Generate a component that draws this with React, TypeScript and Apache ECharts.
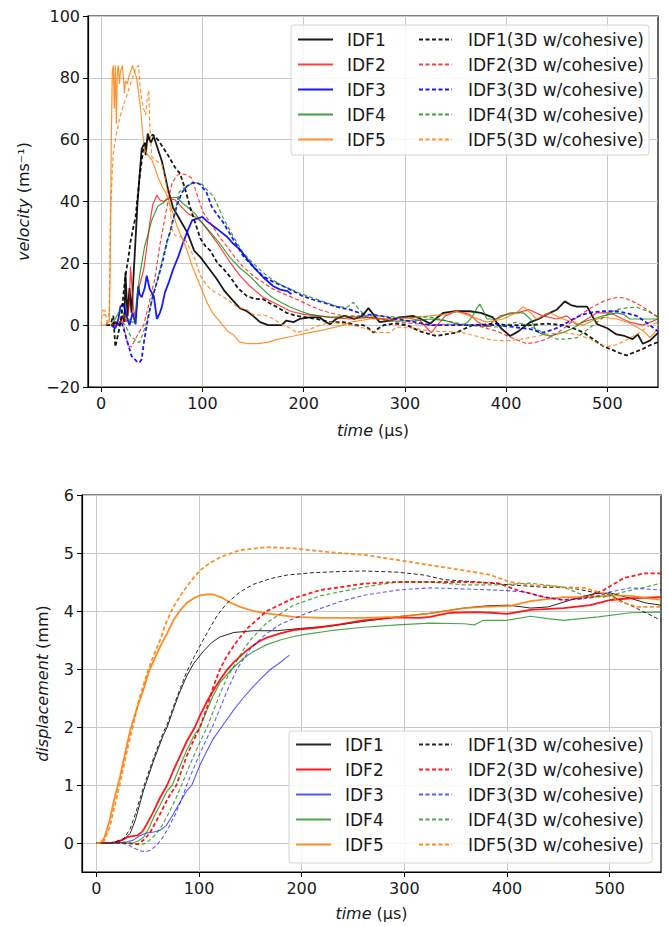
import React, { useEffect, useRef } from "react";
import * as echarts from "echarts";

// ---------- ticks ----------
const timeTicks = [0, 100, 200, 300, 400, 500];
const dispTicks = [0, 1, 2, 3, 4, 5, 6];

// ---------- legend names ----------
const solidNames = ["IDF1", "IDF2", "IDF3", "IDF4", "IDF5"];
const dashedNames = ["IDF1(3D w/cohesive)", "IDF2(3D w/cohesive)", "IDF3(3D w/cohesive)", "IDF4(3D w/cohesive)", "IDF5(3D w/cohesive)"];

// ---------- velocity (top) [time µs, velocity m/s] ----------
const vIDF1 = [[10,0],[14,1],[18,0],[21,3],[23,1],[24,17],[26,3],[28,12],[30,4],[33,22],[36,40],[40,57],[43,59],[44,55],[46,62],[49,59],[52,61],[56,57],[60,53],[66,44],[71,38],[78,34],[85,30],[92,24],[98,22],[105,19],[114,15],[122,11],[130,8],[137,5.5],[144,4.5],[150,3],[157,1],[165,0],[174,0],[178,0],[183,1.5],[190,1],[196,2],[206,2.5],[216,2.5],[222,1],[226,0.3],[232,2],[240,3],[250,2],[258,3],[264,5.5],[270,3],[275,1],[285,1.5],[295,2.5],[308,3],[316,2],[325,0.5],[332,2.5],[338,4],[350,4.5],[364,4.5],[375,4],[387,2.5],[395,-1],[404,-3.5],[412,-2],[424,1],[432,2],[440,3.5],[450,5],[458,7.7],[464,6.5],[470,6],[480,6],[485,3],[490,0.3],[500,-1],[509,-3],[517,-3.5],[525,-4.5],[530,-3],[535,-6],[542,-5],[550,-2.5]];
const vIDF1D = [[5,0],[8,0],[10,1],[12,3],[14,-7],[16,-4],[18,-1],[20,3],[22,10],[24,16],[27,22],[29,27],[32,32],[34,35],[38,48],[42,58],[46,60],[51,61.6],[53,61],[56,60],[60,58],[66,55],[73,51],[78,49],[83,44],[88,38],[93,33],[98,28],[103,25.6],[108,24],[115,20],[120,18.5],[127,15.8],[135,12],[144,9.4],[152,8.5],[160,8.4],[167,7],[174,5.8],[183,4],[193,3],[203,2.5],[213,2],[226,1],[239,1],[252,0],[259,0],[264,-1],[269,-2.4],[274,-1],[279,0],[290,0.5],[302,0],[315,-2],[331,-3.5],[340,-3],[351,-2.4],[360,-1],[367,0],[390,0.5],[400,0],[423,0],[440,0.5],[456,0],[466,-1],[476,-2.3],[486,-4.5],[496,-6.8],[505,-8],[512,-9],[519,-9.8],[527,-8.7],[535,-7.7],[542,-6.5],[550,-5.5]];
const vIDF2 = [[10,0],[15,1],[18,0],[20,2],[22,3],[25,1],[27,4],[28,8],[29,19],[31,10],[32,5],[34,2],[36,8],[38,13],[42,18],[45,25],[48,33],[51,39],[55,42],[58,40.5],[62,40],[67,41],[73,40.5],[80,38],[86,36],[93,35],[100,33],[108,29.5],[116,26],[127,20.5],[137,16],[147,12.6],[160,9],[175,6.5],[187,4.5],[200,3.5],[215,3],[226,2.5],[246,2],[266,2.5],[282,2],[300,2.5],[315,1.5],[322,-1],[326,-2.5],[332,0],[340,3],[351,4.5],[364,3.5],[372,1],[381,-0.6],[388,1.5],[394,3],[410,4],[423,5],[436,3],[450,2],[460,3],[470,0],[480,2],[490,4],[503,4],[512,2.5],[522,1],[535,0],[550,2]];
const vIDF2D = [[12,0],[15,0],[18,1],[21,2],[24,-3],[27,-6.7],[30,-7],[33,-5],[38,-2],[42,0],[48,8],[53,15],[58,26],[62,33],[66,40],[70,46],[75,48.5],[80,49],[85,48.5],[90,47.5],[93,44],[96,41],[100,37],[104,35],[112,31],[118,28],[124,25.6],[132,22],[140,19],[150,16],[160,13.8],[168,12],[177,10.6],[185,9.5],[193,8.4],[205,6.5],[216,5],[226,4],[239,3],[259,3],[275,2],[292,1],[310,0.5],[325,0],[340,0.3],[357,0.3],[375,-0.5],[391,-2],[405,-4],[420,-6],[430,-5.5],[440,-4.5],[448,-3],[456,-1.3],[466,1.5],[476,4],[486,6],[496,7.7],[503,8.5],[510,9],[517,8.8],[525,7.7],[532,6.5],[539,5],[545,3.8],[550,2.6]];
const vIDF3 = [[10,0],[14,-1],[17,2],[19,6],[22,7],[25,3],[28,0],[31,4],[34,0.3],[36.5,12.6],[38,10],[40,9],[43,12],[45,16],[48,11.6],[52,9.4],[55,2],[58,4],[60,6],[63,10.6],[67,14],[71,18],[76,22],[81,26.8],[86,31],[90,34],[95,34.5],[100,35],[105,33.5],[111,32],[117,30.5],[124,28.7],[130,26.5],[137,24.5],[144,21.5],[150,19],[160,15.5],[170,12.6],[177,11.5],[184,11],[188,10]];
const vIDF3D = [[15,0],[20,1],[23,-2],[25,-4.5],[28,-7.7],[30,-10],[33,-11],[36,-12],[38,-12],[40,-11],[42,-6],[45,0],[48,5],[51,9.4],[56,15],[61,21],[65,27],[68,30],[71,34],[75,39],[80,43],[85,45],[90,46],[95,46],[98,45.5],[104,43],[109,38.5],[114,36],[120,33.5],[130,28],[140,22.5],[150,19],[160,15.8],[170,14],[180,12.6],[190,11],[199,9.4],[209,8.3],[219,7.4],[232,6],[246,5],[259,3.5],[272,3.2],[292,2],[310,1],[325,0],[340,0],[357,0],[375,0],[391,0],[408,-0.6],[424,-1.3],[436,-2.4],[446,-1.5],[456,0],[466,2],[476,3.5],[486,4.2],[496,4.5],[509,4.5],[520,3.8],[529,3],[540,0.5],[550,-2]];
const vIDF4 = [[10,0],[14,2],[17,4],[20,5],[23,3],[27,2],[30,1],[33,1],[35,8],[38,16],[43,25.6],[46,29],[50,34],[56,38.5],[61,39.5],[65,41],[70,41.3],[75,41.3],[80,39.6],[86,38],[93,36],[100,33],[108,30],[117,26.5],[127,22],[137,18.5],[147,15.8],[157,12.5],[167,9.4],[177,7.5],[187,5.8],[197,4.5],[206,3.5],[216,3],[226,2.6],[242,2.8],[259,2.6],[275,2],[292,1.3],[310,1.5],[325,2],[340,1.5],[350,0.5],[357,0],[362,1],[367,3],[371,5.5],[374,6.8],[377,5],[381,2],[391,2],[397,3],[404,4],[417,4],[424,2],[430,-2],[436,-3],[443,-3.5],[456,-2.4],[466,-1],[476,1],[486,2],[496,3],[509,4],[516,3.5],[522,2],[535,2],[550,2]];
const vIDF4D = [[15,0],[20,1],[24,0],[27,-2.3],[30,-4],[33,-4.5],[36,-5.5],[38,-5.5],[41,-3],[45,1],[48,5],[52,10.6],[56,15],[61,22],[66,28],[71,34],[74,38],[77,43],[82,44.5],[86,45],[90,46],[95,46],[100,45.5],[104,44],[111,41.6],[116,38],[120,35],[130,29],[140,23.5],[150,20],[160,17],[170,14.5],[180,12.6],[190,11.2],[199,10],[209,8.8],[219,7.7],[233,6],[243,5.8],[249,7.4],[255,5],[262,3],[275,3],[292,2.6],[310,2.6],[325,2.6],[340,1.5],[357,0.3],[375,-0.3],[391,-0.6],[400,0],[410,1],[420,0],[430,-1.3],[440,-3],[450,-4.5],[460,-4.5],[470,-4],[480,-1.5],[490,1],[500,3.5],[509,5],[519,5.6],[529,5.8],[540,4.5],[550,2.6]];
const vIDF5 = [[0,0],[3,0],[6,0.5],[8,1],[9,20],[10,60],[11,82],[12,84],[13,70],[14,84],[15,65],[16,82],[17,84],[18,78],[19,82],[21,84],[22,80],[23,75],[24,79],[26,78],[27,80],[29,82],[31,84],[33,82],[35,80],[37,75],[39,70],[41,62],[43,57],[46,55],[50,53.5],[53,51],[56,48],[60,45],[65,42],[70,37],[75,32],[80,28],[85,24],[90,19],[95,15],[100,11],[105,7],[110,4],[115,2],[120,0],[125,-2],[130,-3],[137,-5.5],[145,-6],[155,-6],[165,-5.5],[175,-4.5],[190,-3.5],[206,-2.4],[220,-1.5],[239,0],[246,1],[266,2],[292,2],[310,2.5],[325,3],[340,3.5],[351,4.5],[364,3],[381,1],[397,2],[410,4],[417,6],[424,4],[430,2],[443,4],[456,2],[466,1],[476,0],[486,1.5],[496,2.6],[509,2],[520,1],[529,-0.6],[536,-2],[542,-4],[550,-1.3]];
const vIDF5D = [[0,0],[1,4],[2,5],[3,3],[4,5],[5,2],[6,0],[8,5],[9,34],[11,50],[12,55.6],[14,60],[17,65],[20,69],[24,73],[27,76],[30,79],[33,82],[35,83.5],[37,84],[38,79],[40,73],[42,70],[44,68],[45,72],[47,76],[48,65],[50,54.5],[55,53],[60,52],[63,48],[65,44],[68,38],[70,31],[73,29],[78,28.7],[83,27.7],[88,24.5],[93,21],[98,16],[103,13.5],[108,11.6],[116,10],[124,8.4],[134,6],[144,5],[150,3.5],[164,3],[170,2],[180,0],[187,-1],[193,-2.4],[200,-1.8],[206,-1.3],[216,0],[226,1],[237,0.5],[249,0],[260,-1],[272,-2.4],[285,-2.4],[292,-0.6],[310,-1],[325,-2],[340,-2],[357,-2.4],[370,-3.5],[381,-4.5],[392,-5],[404,-5],[415,-4.5],[424,-4],[440,-3],[456,-2.4],[470,-3],[483,-4.5],[491,-6],[499,-7],[507,-6.5],[515,-5.5],[523,-4],[532,-2.4],[540,-0.5],[550,1]];

// ---------- displacement (bottom) [time µs, displacement mm] ----------
const dIDF1 = [[0,0],[15,0],[22,0.02],[28,0.08],[33,0.17],[38,0.4],[46,0.91],[56,1.43],[65,1.85],[69,2.0],[74,2.25],[80,2.55],[88,2.88],[95,3.1],[104,3.3],[112,3.45],[120,3.55],[134,3.63],[153,3.66],[176,3.66],[199,3.7],[228,3.74],[260,3.82],[293,3.9],[325,3.96],[358,4.05],[381,4.09],[401,4.1],[415,4.07],[423,4.05],[440,4.07],[462,4.19],[485,4.3],[501,4.31],[520,4.22],[535,4.14],[550,4.1]];
const dIDF1D = [[0,0],[12,0],[20,0.03],[27,0.08],[33,0.25],[38,0.5],[46,0.97],[56,1.48],[65,1.9],[69,2.05],[75,2.35],[82,2.68],[88,2.95],[95,3.2],[104,3.5],[112,3.75],[118,3.93],[127,4.13],[140,4.33],[153,4.46],[170,4.56],[186,4.62],[210,4.66],[237,4.68],[260,4.69],[293,4.67],[319,4.62],[339,4.54],[372,4.5],[403,4.45],[436,4.41],[462,4.4],[482,4.33],[501,4.27],[514,4.15],[534,3.98],[550,3.84]];
const dIDF2 = [[0,0],[15,0],[25,0.05],[30,0.1],[35,0.12],[40,0.13],[45,0.2],[49,0.32],[55,0.52],[62,0.78],[69,1.0],[75,1.25],[82,1.52],[88,1.75],[96,2.0],[101,2.2],[108,2.45],[114,2.63],[120,2.8],[127,2.98],[134,3.12],[147,3.33],[158,3.47],[166,3.54],[180,3.62],[192,3.67],[218,3.72],[237,3.77],[260,3.84],[293,3.89],[315,3.88],[325,3.9],[345,3.97],[371,3.98],[385,3.97],[400,3.95],[423,4.02],[455,4.05],[481,4.1],[501,4.19],[520,4.22],[550,4.24]];
const dIDF2D = [[0,0],[20,0],[30,0],[40,-0.02],[46,0.05],[52,0.17],[62,0.5],[70,0.78],[78,1.0],[88,1.5],[95,1.78],[101,2.0],[108,2.35],[114,2.7],[120,2.98],[127,3.22],[137,3.48],[147,3.7],[166,4.0],[192,4.22],[218,4.36],[237,4.41],[260,4.47],[293,4.5],[358,4.5],[391,4.48],[410,4.36],[436,4.24],[455,4.19],[475,4.22],[494,4.36],[514,4.57],[534,4.65],[550,4.65]];
const dIDF3 = [[0,0],[20,0],[30,0.02],[36,0.05],[42,0.12],[48,0.17],[56,0.19],[62,0.22],[68,0.3],[75,0.5],[82,0.72],[88,0.9],[93,1.0],[101,1.35],[108,1.6],[114,1.8],[122,2.0],[134,2.3],[143,2.5],[153,2.7],[163,2.88],[170,3.0],[178,3.1],[188,3.24]];
const dIDF3D = [[0,0],[25,0],[32,-0.04],[38,-0.1],[44,-0.14],[48,-0.15],[52,-0.13],[58,-0.05],[64,0.08],[70,0.25],[77,0.5],[83,0.75],[88,1.0],[95,1.3],[101,1.55],[107,1.78],[113,2.0],[120,2.3],[128,2.65],[137,3.0],[150,3.35],[165,3.6],[180,3.78],[205,3.96],[237,4.16],[260,4.27],[293,4.36],[325,4.4],[358,4.38],[391,4.36],[417,4.33],[436,4.24],[455,4.19],[481,4.22],[501,4.33],[520,4.4],[550,4.36]];
const dIDF4 = [[0,0],[25,0],[36,0],[41,0.04],[46,0.1],[51,0.25],[56,0.45],[62,0.65],[69,0.9],[74,1.0],[82,1.35],[88,1.6],[95,1.85],[101,2.0],[108,2.3],[114,2.55],[121,2.78],[132,3.0],[143,3.18],[153,3.3],[166,3.42],[179,3.5],[192,3.56],[205,3.6],[228,3.66],[260,3.72],[293,3.76],[325,3.79],[358,3.78],[368,3.76],[377,3.84],[400,3.84],[423,3.91],[440,3.87],[455,3.84],[489,3.9],[520,3.97],[550,3.98]];
const dIDF4D = [[0,0],[30,0],[40,-0.03],[46,-0.02],[52,0.05],[58,0.15],[64,0.3],[70,0.5],[77,0.75],[83,1.0],[90,1.3],[96,1.55],[102,1.78],[108,2.0],[114,2.28],[120,2.55],[128,2.88],[134,3.05],[142,3.3],[150,3.5],[166,3.8],[192,4.1],[218,4.26],[237,4.33],[260,4.41],[293,4.5],[325,4.5],[358,4.45],[391,4.45],[423,4.48],[455,4.41],[475,4.27],[494,4.24],[514,4.33],[534,4.41],[550,4.48]];
const dIDF5 = [[0,0],[4,0],[8,0.1],[13,0.4],[18,0.8],[23,1.14],[28,1.55],[33,1.95],[40,2.35],[46,2.65],[51,2.95],[56,3.15],[62,3.38],[69,3.62],[75,3.84],[82,4.02],[88,4.14],[95,4.22],[101,4.27],[109,4.29],[115,4.28],[121,4.24],[130,4.15],[140,4.07],[153,4.0],[166,3.96],[192,3.9],[218,3.88],[260,3.88],[293,3.9],[325,3.96],[358,4.05],[377,4.07],[403,4.09],[423,4.17],[455,4.24],[481,4.24],[501,4.27],[520,4.26],[550,4.19]];
const dIDF5D = [[0,0],[5,0],[8,0.05],[13,0.28],[18,0.65],[23,1.03],[30,1.6],[36,2.05],[42,2.5],[49,2.9],[55,3.2],[62,3.5],[68,3.8],[75,4.07],[82,4.27],[88,4.42],[95,4.58],[101,4.7],[110,4.82],[121,4.93],[140,5.05],[166,5.1],[192,5.08],[218,5.03],[237,5.0],[260,4.97],[293,4.88],[325,4.79],[358,4.7],[384,4.62],[403,4.5],[423,4.45],[455,4.41],[475,4.4],[494,4.3],[511,4.16],[527,4.07],[550,4.07]];

const FONT = "DejaVu Sans";
const FS = 16;
const LFS = 17;
const TXT = "#1a1a1a";
const colors = ["#000000", "#ff0000", "#0000ff", "#008000", "#ff7f0e"];
const DASH = [4, 2.5];

function line(name: string, data: number[][], color: string, width: number, opacity: number, dashed: boolean, idx: number) {
  return {
    type: "line",
    name,
    data,
    xAxisIndex: idx,
    yAxisIndex: idx,
    symbol: "none",
    showSymbol: false,
    lineStyle: { color, width, opacity, type: dashed ? DASH : "solid" },
    itemStyle: { color, opacity },
    emphasis: { disabled: true },
    z: 2,
  };
}

const nameStyle = { fontSize: FS, fontFamily: FONT, color: TXT, rich: { it: { fontStyle: "italic", fontSize: FS, fontFamily: FONT, color: TXT } } };

function xAxis(idx: number, gridIdx: number, min: number) {
  return {
    type: "value",
    gridIndex: gridIdx,
    min,
    max: 550,
    name: "{it|time} (µs)",
    nameLocation: "middle",
    nameGap: idx === 0 ? 35 : 33,
    nameTextStyle: nameStyle,
    axisLine: { show: true, onZero: false, lineStyle: { color: "#000", width: 1.2 } },
    axisTick: { show: true, length: 5, customValues: timeTicks, lineStyle: { color: "#000", width: 1 } },
    axisLabel: { customValues: timeTicks, fontSize: FS, fontFamily: FONT, color: TXT, margin: 8 },
    splitLine: { show: true, lineStyle: { color: "#c8c8c8", width: 1 } },
  };
}

const minusFmt = (v: number) => (v < 0 ? "\u2212" + Math.abs(v) : String(v));

export default function App() {
  const ref = useRef<HTMLDivElement>(null);
  useEffect(() => {
    if (!ref.current) return;
    const chart = echarts.init(ref.current, null, { renderer: "svg" });
    const topData = [vIDF1, vIDF2, vIDF3, vIDF4, vIDF5];
    const topDataD = [vIDF1D, vIDF2D, vIDF3D, vIDF4D, vIDF5D];
    const botData = [dIDF1, dIDF2, dIDF3, dIDF4, dIDF5];
    const botDataD = [dIDF1D, dIDF2D, dIDF3D, dIDF4D, dIDF5D];
    const topW = [1.8, 1.2, 1.8, 1.2, 1.2];
    const topO = [0.9, 0.75, 0.9, 0.75, 0.85];
    const botW = [1.0, 1.8, 1.1, 1.2, 1.8];
    const botO = [0.85, 0.9, 0.65, 0.7, 0.9];

    const series: any[] = [];
    for (let i = 0; i < 5; i++) series.push(line(solidNames[i], topData[i], colors[i], topW[i], topO[i], false, 0));
    for (let i = 0; i < 5; i++) series.push(line(dashedNames[i], topDataD[i], colors[i], topW[i], topO[i], true, 0));
    for (let i = 0; i < 5; i++) series.push(line("b:" + solidNames[i], botData[i], colors[i], botW[i], botO[i], false, 1));
    for (let i = 0; i < 5; i++) series.push(line("b:" + dashedNames[i], botDataD[i], colors[i], botW[i], botO[i], true, 1));

    const legendBase = {
      orient: "vertical",
      padding: 0,
      itemHeight: 17,
      itemGap: 8,
      selectedMode: false,
      formatter: (n: string) => n.replace(/^b:/, ""),
      itemStyle: { opacity: 0, borderWidth: 0 },
      textStyle: { fontSize: LFS, fontFamily: FONT, color: TXT, lineHeight: 17 },
      z: 5,
    };

    chart.setOption({
      animation: false,
      backgroundColor: "#ffffff",
      grid: [
        { left: 88, top: 16, width: 570, height: 371, show: true, borderColor: "#000", borderWidth: 1.2, backgroundColor: "transparent" },
        { left: 82, top: 495, width: 579, height: 377, show: true, borderColor: "#000", borderWidth: 1.2, backgroundColor: "transparent" },
      ],
      xAxis: [xAxis(0, 0, -13), xAxis(1, 1, -14)],
      yAxis: [
        {
          type: "value", gridIndex: 0, min: -20, max: 100, interval: 20,
          name: "{it|velocity} (ms⁻¹)", nameLocation: "middle", nameGap: 57, nameRotate: 90,
          nameTextStyle: nameStyle,
          axisLine: { show: true, onZero: false, lineStyle: { color: "#000", width: 1.2 } },
          axisTick: { show: true, length: 5, lineStyle: { color: "#000", width: 1 } },
          axisLabel: { fontSize: FS, fontFamily: FONT, color: TXT, margin: 8, formatter: minusFmt },
          splitLine: { show: true, lineStyle: { color: "#c8c8c8", width: 1 } },
        },
        {
          type: "value", gridIndex: 1, min: -0.5, max: 6,
          name: "{it|displacement} (mm)", nameLocation: "middle", nameGap: 32, nameRotate: 90,
          nameTextStyle: nameStyle,
          axisLine: { show: true, onZero: false, lineStyle: { color: "#000", width: 1.2 } },
          axisTick: { show: true, length: 5, customValues: dispTicks, lineStyle: { color: "#000", width: 1 } },
          axisLabel: { customValues: dispTicks, fontSize: FS, fontFamily: FONT, color: TXT, margin: 8 },
          splitLine: { show: true, lineStyle: { color: "#c8c8c8", width: 1 } },
        },
      ],
      legend: [
        { ...legendBase, left: 297, top: 31, itemWidth: 35, data: solidNames, textStyle: { ...legendBase.textStyle, padding: [0, 0, 0, 9] } },
        { ...legendBase, left: 418, top: 31, itemWidth: 33, data: dashedNames, textStyle: { ...legendBase.textStyle, padding: [0, 0, 0, 11] } },
        { ...legendBase, left: 295, top: 736, itemWidth: 35, data: solidNames.map((n) => "b:" + n), textStyle: { ...legendBase.textStyle, padding: [0, 0, 0, 9] } },
        { ...legendBase, left: 418, top: 736, itemWidth: 33, data: dashedNames.map((n) => "b:" + n), textStyle: { ...legendBase.textStyle, padding: [0, 0, 0, 11] } },
      ],
      graphic: [
        { type: "rect", z: 4, shape: { x: 291, y: 25, width: 358, height: 130, r: 3 }, style: { fill: "rgba(255,255,255,0.85)", stroke: "#d4d4d4", lineWidth: 1 } },
        { type: "rect", z: 4, shape: { x: 289, y: 731, width: 363, height: 132, r: 3 }, style: { fill: "rgba(255,255,255,0.85)", stroke: "#d4d4d4", lineWidth: 1 } },
      ],
      series,
    });
    return () => chart.dispose();
  }, []);
  return <div ref={ref} style={{ position: "fixed", left: 0, top: 0, width: 668, height: 927 }} />;
}
